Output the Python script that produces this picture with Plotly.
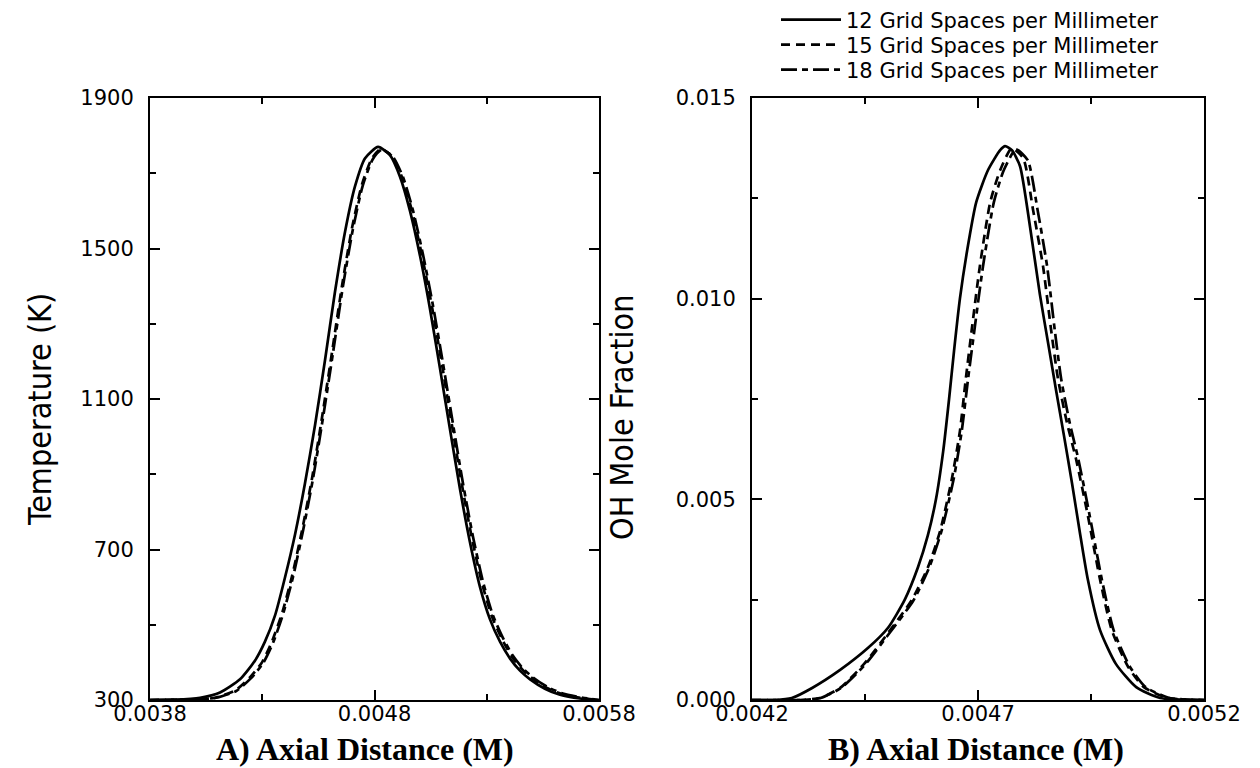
import plotly.graph_objects as go

# ---------------- data ----------------
# Panel A: temperature (K) vs axial distance (m)
xA_12 = [0.003800, 0.003911, 0.004023, 0.004112, 0.004201, 0.004268, 0.004312, 0.004357, 0.004401,
         0.004446, 0.004490, 0.004535, 0.004580, 0.004624, 0.004669, 0.004713, 0.004758, 0.004816,
         0.004869, 0.004914, 0.004958, 0.005003, 0.005047, 0.005092, 0.005136, 0.005181, 0.005225,
         0.005270, 0.005314, 0.005359, 0.005404, 0.005448, 0.005493, 0.005559, 0.005626, 0.005715, 0.005800]
T_12 = [300, 301, 306, 320, 355, 405, 455, 525, 625, 740, 875, 1030, 1205, 1385, 1545, 1665, 1740, 1770,
        1748, 1690, 1600, 1480, 1340, 1180, 1020, 860, 720, 600, 515, 455, 410, 378, 355, 330, 314, 304, 300]

xA_15 = [0.003800, 0.004023, 0.004090, 0.004179, 0.004245, 0.004299, 0.004343, 0.004388, 0.004433,
         0.004477, 0.004522, 0.004566, 0.004611, 0.004655, 0.004700, 0.004744, 0.004789, 0.004829,
         0.004878, 0.004922, 0.004967, 0.005012, 0.005056, 0.005101, 0.005145, 0.005190, 0.005234,
         0.005279, 0.005323, 0.005368, 0.005412, 0.005457, 0.005502, 0.005568, 0.005635, 0.005724, 0.005800]
T_15 = [300, 302, 306, 325, 360, 400, 455, 530, 630, 750, 890, 1050, 1225, 1400, 1555, 1670, 1740, 1765,
        1745, 1690, 1600, 1480, 1345, 1190, 1030, 870, 730, 610, 522, 462, 415, 382, 358, 332, 316, 305, 300]

xA_18 = [0.003800, 0.004030, 0.004095, 0.004184, 0.004250, 0.004304, 0.004348, 0.004392, 0.004437,
         0.004481, 0.004526, 0.004570, 0.004615, 0.004659, 0.004704, 0.004748, 0.004793, 0.004833,
         0.004882, 0.004927, 0.004971, 0.005016, 0.005060, 0.005105, 0.005149, 0.005194, 0.005238,
         0.005283, 0.005327, 0.005372, 0.005416, 0.005461, 0.005506, 0.005572, 0.005639, 0.005728, 0.005800]
T_18 = [300, 302, 306, 324, 358, 398, 452, 527, 627, 748, 888, 1048, 1222, 1398, 1552, 1668, 1738, 1763,
        1744, 1690, 1602, 1484, 1350, 1195, 1036, 876, 736, 615, 526, 465, 418, 384, 360, 334, 317, 306, 300]

# Panel B: OH mole fraction vs axial distance (m)
xB_12 = [0.004200, 0.004251, 0.004288, 0.004333, 0.004395, 0.004457, 0.004501, 0.004538, 0.004567,
         0.004589, 0.004607, 0.004623, 0.004636, 0.004647, 0.004660, 0.004676, 0.004696, 0.004722,
         0.004749, 0.004760, 0.004775, 0.004793, 0.004815, 0.004837, 0.004855, 0.004873, 0.004890,
         0.004908, 0.004925, 0.004943, 0.004970, 0.005005, 0.005050, 0.005103, 0.005200]
OH_12 = [0.0, 0.0, 0.00005, 0.00030, 0.00075, 0.00130, 0.00180, 0.00250, 0.00330, 0.00410, 0.00500,
         0.00620, 0.00750, 0.00870, 0.01000, 0.01120, 0.01240, 0.01320, 0.01370, 0.01380, 0.01370,
         0.01330, 0.01180, 0.01010, 0.00890, 0.00770, 0.00660, 0.00540, 0.00420, 0.00300, 0.00174,
         0.00090, 0.00032, 0.00005, 0.0]

xB_15 = [0.004200, 0.004306, 0.004350, 0.004395, 0.004448, 0.004501, 0.004554, 0.004589, 0.004616,
         0.004642, 0.004660, 0.004673, 0.004687, 0.004704, 0.004727, 0.004749, 0.004775, 0.004800,
         0.004822, 0.004844, 0.004862, 0.004877, 0.004897, 0.004917, 0.004943, 0.004970, 0.004996,
         0.005032, 0.005067, 0.005120, 0.005200]
OH_15 = [0.0, 0.0, 0.00005, 0.00030, 0.00090, 0.00167, 0.00250, 0.00330, 0.00420, 0.00550, 0.00670,
         0.00800, 0.00930, 0.01080, 0.01240, 0.01320, 0.01375, 0.01350, 0.01220, 0.01080, 0.00920,
         0.00800, 0.00690, 0.00600, 0.00460, 0.00300, 0.00174, 0.00083, 0.00032, 0.00005, 0.0]

xB_18 = [0.004200, 0.004308, 0.004352, 0.004397, 0.004450, 0.004503, 0.004557, 0.004592, 0.004619,
         0.004646, 0.004664, 0.004678, 0.004693, 0.004711, 0.004735, 0.004757, 0.004784, 0.004810,
         0.004832, 0.004853, 0.004870, 0.004884, 0.004903, 0.004922, 0.004947, 0.004974, 0.005000,
         0.005036, 0.005071, 0.005124, 0.005200]
OH_18 = [0.0, 0.0, 0.00005, 0.00030, 0.00088, 0.00165, 0.00248, 0.00330, 0.00420, 0.00550, 0.00670,
         0.00800, 0.00930, 0.01080, 0.01240, 0.01320, 0.01372, 0.01345, 0.01220, 0.01080, 0.00920,
         0.00800, 0.00690, 0.00600, 0.00460, 0.00300, 0.00174, 0.00083, 0.00032, 0.00005, 0.0]

series_names = ["12 Grid Spaces per Millimeter",
                "15 Grid Spaces per Millimeter",
                "18 Grid Spaces per Millimeter"]

xA_ticks = [0.0038, 0.0048, 0.0058]
xB_ticks = [0.0042, 0.0047, 0.0052]
yA_ticks = [300, 700, 1100, 1500, 1900]
yB_ticks = [0.000, 0.005, 0.010, 0.015]

# ---------------- figure ----------------
W, H = 1260, 768
dashes = ["solid", "9px,6px", "16px,5px,6px,5px"]
LW = 2.7
tick_font = dict(family="DejaVu Sans, Liberation Sans, sans-serif", size=21, color="black")
legend_ids = ["legend", "legend2", "legend3"]

fig = go.Figure()
A = [(xA_12, T_12), (xA_15, T_15), (xA_18, T_18)]
B = [(xB_12, OH_12), (xB_15, OH_15), (xB_18, OH_18)]
for i, (xs, ys) in enumerate(A):
    fig.add_trace(go.Scatter(x=xs, y=ys, mode="lines", name=series_names[i],
                             line=dict(color="black", width=LW, dash=dashes[i], shape="spline", smoothing=0.6),
                             xaxis="x", yaxis="y", showlegend=True, legend=legend_ids[i]))
for i, (xs, ys) in enumerate(B):
    fig.add_trace(go.Scatter(x=xs, y=ys, mode="lines", name=series_names[i],
                             line=dict(color="black", width=LW, dash=dashes[i], shape="spline", smoothing=0.6),
                             xaxis="x2", yaxis="y2", showlegend=False))

def px2x(p):
    return p / W

def py2y(p):
    return 1 - p / H

ydom = [py2y(700), py2y(98)]
common = dict(showline=True, linecolor="black", linewidth=2, mirror="ticks", showgrid=False,
              zeroline=False, ticks="inside", ticklen=10, tickwidth=1.5, tickcolor="black",
              tickfont=tick_font, automargin=False)

leg_font = dict(family="DejaVu Sans, Liberation Sans, sans-serif", size=21, color="black")
leg_rows = [20, 45, 70]
legends = {}
for i, lid in enumerate(legend_ids):
    legends[lid] = dict(x=px2x(776), y=py2y(leg_rows[i]), xanchor="left", yanchor="middle",
                        bgcolor="rgba(0,0,0,0)", borderwidth=0, itemwidth=60, font=leg_font)

fig.update_layout(
    width=W, height=H,
    margin=dict(l=0, r=0, t=0, b=0, pad=0, autoexpand=False),
    paper_bgcolor="white", plot_bgcolor="white",
    xaxis=dict(domain=[px2x(150), px2x(599)], range=[0.0038, 0.0058], anchor="y",
               tickvals=xA_ticks, ticktext=[f"{v:.4f}" for v in xA_ticks], ticklabelstandoff=-6,
               minor=dict(tickvals=[0.0043, 0.0053], ticks="inside", ticklen=6, tickcolor="black"),
               **common),
    yaxis=dict(domain=ydom, range=[300, 1900], anchor="x",
               tickvals=yA_ticks, ticktext=[str(v) for v in yA_ticks], ticklabelstandoff=10,
               minor=dict(tickvals=[500, 900, 1300, 1700], ticks="inside", ticklen=6, tickcolor="black"),
               **common),
    xaxis2=dict(domain=[px2x(752), px2x(1204)], range=[0.0042, 0.0052], anchor="y2",
                tickvals=xB_ticks, ticktext=[f"{v:.4f}" for v in xB_ticks], ticklabelstandoff=-6,
                minor=dict(tickvals=[0.00445, 0.00495], ticks="inside", ticklen=6, tickcolor="black"),
                **common),
    yaxis2=dict(domain=ydom, range=[0, 0.015], anchor="x2",
                tickvals=yB_ticks, ticktext=[f"{v:.3f}" for v in yB_ticks], ticklabelstandoff=10,
                minor=dict(tickvals=[0.0025, 0.0075, 0.0125], ticks="inside", ticklen=6, tickcolor="black"),
                **common),
    showlegend=True,
    **legends,
)

narrow = "Liberation Sans Narrow, Arial Narrow, DejaVu Sans Condensed, sans-serif"
serif = "Liberation Serif, Times New Roman, serif"
fig.add_annotation(text="Temperature (K)", x=px2x(40), y=py2y(410), xref="paper", yref="paper",
                   xanchor="center", yanchor="middle",
                   textangle=-90, showarrow=False, font=dict(family=narrow, size=32, color="black"))
fig.add_annotation(text="OH Mole Fraction", x=px2x(622), y=py2y(418), xref="paper", yref="paper",
                   xanchor="center", yanchor="middle",
                   textangle=-90, showarrow=False, font=dict(family=narrow, size=32, color="black"))
fig.add_annotation(text="<b>A) Axial Distance (M)</b>", x=px2x(365), y=py2y(749), xref="paper", yref="paper",
                   xanchor="center", yanchor="middle",
                   showarrow=False, font=dict(family=serif, size=32, color="black"))
fig.add_annotation(text="<b>B) Axial Distance (M)</b>", x=px2x(976), y=py2y(749), xref="paper", yref="paper",
                   xanchor="center", yanchor="middle",
                   showarrow=False, font=dict(family=serif, size=32, color="black"))

fig.write_html("out.html")
